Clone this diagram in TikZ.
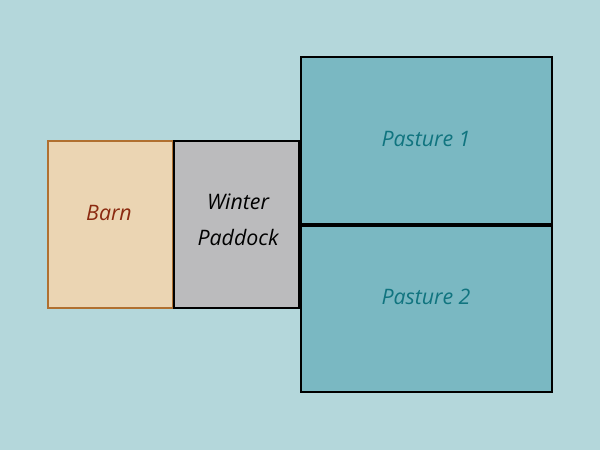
\documentclass[tikz,border=0pt]{standalone}
\usepackage{fontspec}
\setmainfont{Open Sans}
\definecolor{bg}{HTML}{B4D7DB}
\definecolor{barnfill}{HTML}{EBD5B3}
\definecolor{barnline}{HTML}{B07030}
\definecolor{barntext}{HTML}{8B2A10}
\definecolor{padfill}{HTML}{BBBBBD}
\definecolor{pastfill}{HTML}{7AB8C2}
\definecolor{pasttext}{HTML}{10747F}
\begin{document}
\begin{tikzpicture}[x=0.75pt,y=-0.75pt,
  lbl/.style={font=\fontsize{16}{27}\selectfont\itshape, align=center}]
\fill[bg] (0,0) rectangle (600,450);
\useasboundingbox (0,0) rectangle (600,450);
\draw[barnline, fill=barnfill, line width=1.5pt] (48,141) rectangle (173,308);
\draw[black, fill=padfill, line width=2pt] (174,141) rectangle (299,308);
\draw[black, fill=pastfill, line width=2pt] (301,57) rectangle (552,224);
\draw[black, fill=pastfill, line width=2pt] (301,226) rectangle (552,392);
\node[lbl, text=barntext] (barn) at (109,213) {Barn};
\node[lbl, text=black] (pad) at (238,220) {Winter\\Paddock};
\node[lbl, text=pasttext] (p1) at (426,139) {Pasture 1};
\node[lbl, text=pasttext] (p2) at (426,297) {Pasture 2};
\end{tikzpicture}
\end{document}
